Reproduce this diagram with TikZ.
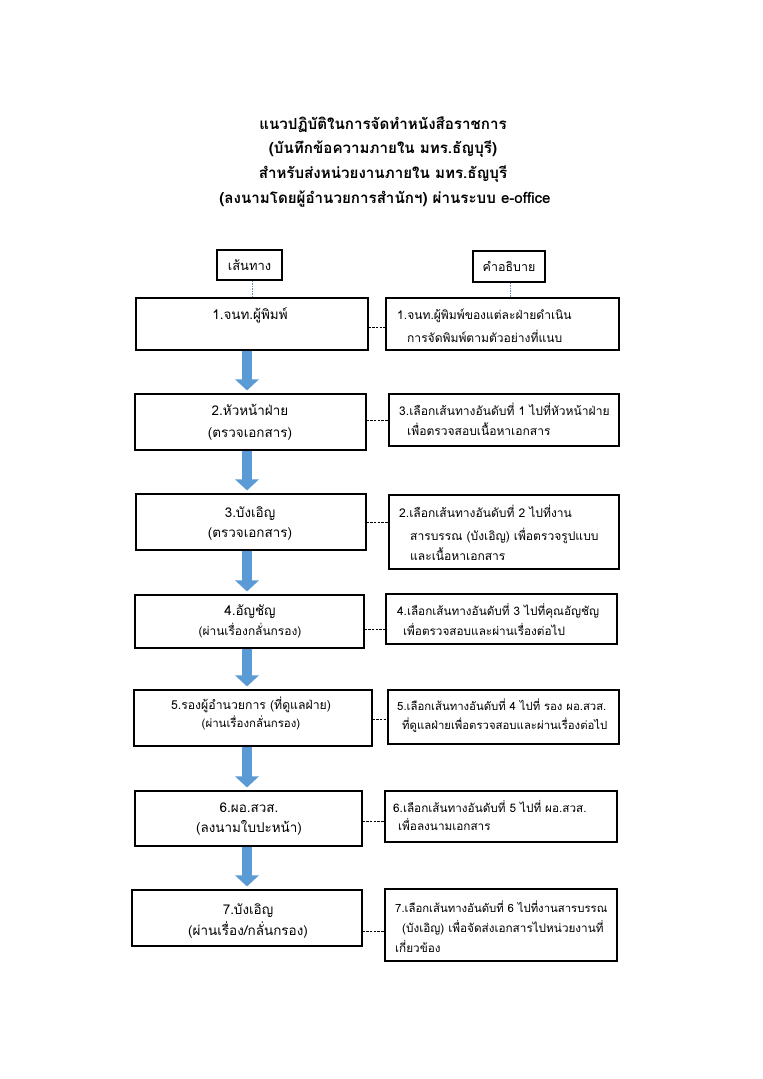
\documentclass[tikz,border=0pt]{standalone}
\usepackage{fontspec}
\setmainfont[Script=Thai]{Loma}
\usetikzlibrary{arrows.meta,fit}
\definecolor{arrowblue}{RGB}{91,155,213}
\definecolor{dotline}{RGB}{110,140,170}
\begin{document}
\begin{tikzpicture}[x=1bp,y=-1bp,
  box/.style={draw,line width=1.1bp,inner sep=0pt},
  ttl/.style={font=\fontsize{15.2}{18}\selectfont\bfseries, anchor=mid},
  ltxt/.style={font=\fontsize{13.5}{16}\selectfont, anchor=mid},
  lsm/.style={font=\fontsize{12}{14}\selectfont, anchor=mid},
  rtxt/.style={font=\fontsize{12.1}{15}\selectfont, anchor=mid west, inner sep=0pt},
  rsm/.style={rtxt, font=\fontsize{11.4}{14}\selectfont},
  rmd/.style={rtxt, font=\fontsize{11.8}{14}\selectfont},
  conn/.style={line width=0.8bp, dash pattern=on 2.5bp off 1.2bp},
  vdot/.style={draw=dotline, line width=0.7bp, dash pattern=on 1.5bp off 1bp},
  flow/.style={line width=10bp, arrowblue, -{Triangle[width=23bp,length=11bp]}, shorten >=3bp}
]
\useasboundingbox[fill=white] (0,0) rectangle (763,1079);

% title
\node[ttl] (ti1) at (383,127) {แนวปฏิบัติในการจัดทำหนังสือราชการ};
\node[ttl] (ti2) at (383,151) {(บันทึกข้อความภายใน มทร.ธัญบุรี)};
\node[ttl] (ti3) at (383,176) {สำหรับส่งหน่วยงานภายใน มทร.ธัญบุรี};
\node[ttl] (ti4) at (385,201) {(ลงนามโดยผู้อำนวยการสำนักฯ) ผ่านระบบ e-office};

% headers
\node[box, minimum width=65bp, minimum height=30bp, font=\fontsize{13}{15}\selectfont] (H1) at (249.5,265) {เส้นทาง};
\node[box, minimum width=72bp, minimum height=31bp, font=\fontsize{12.5}{15}\selectfont] (H2) at (509,266.5) {คำอธิบาย};

% left boxes
\node[box, fit={(136,298) (368,350)}] (L1) {};
\node[box, fit={(135,394) (366,450)}] (L2) {};
\node[box, fit={(136,494) (366,550)}] (L3) {};
\node[box, fit={(135,595) (364,648)}] (L4) {};
\node[box, fit={(134,690) (372,746)}] (L5) {};
\node[box, fit={(135,791) (362,846)}] (L6) {};
\node[box, fit={(132,890) (362,946)}] (L7) {};

% right boxes
\node[box, fit={(386,298) (619,350)}] (R1) {};
\node[box, fit={(389,394) (619,446)}] (R2) {};
\node[box, fit={(389,495) (619,569)}] (R3) {};
\node[box, fit={(386,594) (617,644)}] (R4) {};
\node[box, fit={(388,690) (619,744)}] (R5) {};
\node[box, fit={(385,791) (617,842)}] (R6) {};
\node[box, fit={(385,889) (617,961)}] (R7) {};

% header leaders
\draw[vdot] (H1.south -| 252,0) -- (L1.north -| 252,0);
\draw[vdot] (H2.south -| 510,0) -- (R1.north -| 510,0);

% left texts
\node[ltxt] (a1) at (250,317) {1.จนท.ผู้พิมพ์};
\node[ltxt] (a2) at (250,413) {2.หัวหน้าฝ่าย};
\node[ltxt] (b2) at (250,435) {(ตรวจเอกสาร)};
\node[ltxt] (a3) at (250,515) {3.บังเอิญ};
\node[ltxt] (b3) at (250,535) {(ตรวจเอกสาร)};
\node[ltxt] (a4) at (250,613) {4.อัญชัญ};
\node[lsm]  (b4) at (250,633) {(ผ่านเรื่องกลั่นกรอง)};
\node[ltxt, font=\fontsize{12.3}{15}\selectfont] (a5) at (251,707) {5.รองผู้อำนวยการ (ที่ดูแลฝ่าย)};
\node[lsm, font=\fontsize{11.5}{14}\selectfont]  (b5) at (251,725) {(ผ่านเรื่องกลั่นกรอง)};
\node[ltxt] (a6) at (249,810) {6.ผอ.สวส.};
\node[ltxt] (b6) at (249,830) {(ลงนามใบปะหน้า)};
\node[ltxt] (a7) at (248,912) {7.บังเอิญ};
\node[ltxt] (b7) at (248,933) {(ผ่านเรื่อง/กลั่นกรอง)};

% right texts
\node[rtxt] (r1a) at (397,317) {1.จนท.ผู้พิมพ์ของแต่ละฝ่ายดำเนิน};
\node[rtxt] (r1b) at (407,340) {การจัดพิมพ์ตามตัวอย่างที่แนบ};
\node[rtxt] (r2a) at (399,413) {3.เลือกเส้นทางอันดับที่ 1 ไปที่หัวหน้าฝ่าย};
\node[rtxt] (r2b) at (407,433) {เพื่อตรวจสอบเนื้อหาเอกสาร};
\node[rtxt] (r3a) at (399,515) {2.เลือกเส้นทางอันดับที่ 2 ไปที่งาน};
\node[rtxt] (r3b) at (410,538) {สารบรรณ (บังเอิญ) เพื่อตรวจรูปแบบ};
\node[rtxt] (r3c) at (410,558) {และเนื้อหาเอกสาร};
\node[rmd] (r4a) at (397,613) {4.เลือกเส้นทางอันดับที่ 3 ไปที่คุณอัญชัญ};
\node[rmd] (r4b) at (403,633) {เพื่อตรวจสอบและผ่านเรื่องต่อไป};
\node[rsm] (r5a) at (397,708) {5.เลือกเส้นทางอันดับที่ 4 ไปที่ รอง ผอ.สวส.};
\node[rsm] (r5b) at (402,727) {ที่ดูแลฝ่ายเพื่อตรวจสอบและผ่านเรื่องต่อไป};
\node[rmd] (r6a) at (393,810) {6.เลือกเส้นทางอันดับที่ 5 ไปที่ ผอ.สวส.};
\node[rmd] (r6b) at (398,828) {เพื่อลงนามเอกสาร};
\node[rsm] (r7a) at (395,910) {7.เลือกเส้นทางอันดับที่ 6 ไปที่งานสารบรรณ};
\node[rmd] (r7b) at (402,930) {(บังเอิญ) เพื่อจัดส่งเอกสารไปหน่วยงานที่};
\node[rmd] (r7c) at (395,950) {เกี่ยวข้อง};

% dashed connectors
\draw[conn] (L1.east |- 0,327) -- (R1.west |- 0,327);
\draw[conn] (L2.east |- 0,420) -- (R2.west |- 0,420);
\draw[conn] (L3.east |- 0,522) -- (R3.west |- 0,522);
\draw[conn] (L4.east |- 0,629) -- (R4.west |- 0,629);
\draw[conn] (L5.east |- 0,719) -- (R5.west |- 0,719);
\draw[conn] (L6.east |- 0,821) -- (R6.west |- 0,821);
\draw[conn] (L7.east |- 0,931) -- (R7.west |- 0,931);

% flow arrows
\draw[flow] (L1.south -| 247,0) -- (L2.north -| 247,0);
\draw[flow] (L2.south -| 247,0) -- (L3.north -| 247,0);
\draw[flow] (L3.south -| 247,0) -- (L4.north -| 247,0);
\draw[flow] (L4.south -| 247,0) -- (L5.north -| 247,0);
\draw[flow] (L5.south -| 247,0) -- (L6.north -| 247,0);
\draw[flow] (L6.south -| 247,0) -- (L7.north -| 247,0);
\end{tikzpicture}
\end{document}
